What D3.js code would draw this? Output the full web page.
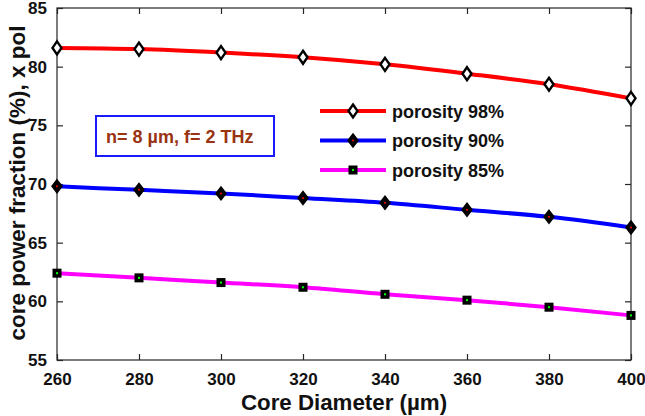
<!DOCTYPE html>
<html><head><meta charset="utf-8">
<script src="https://cdn.jsdelivr.net/npm/d3@7"></script>
<style>body{margin:0;background:#fff}svg{display:block;font-family:"Liberation Sans",Arial,sans-serif}</style>
</head><body><svg id="c" width="645" height="416"></svg>
<script>
const diameters = [260, 280, 300, 320, 340, 360, 380, 400];
const p98 = [81.6, 81.5, 81.2, 80.8, 80.2, 79.4, 78.5, 77.3];
const p90 = [69.8, 69.5, 69.2, 68.8, 68.4, 67.8, 67.2, 66.3];
const p85 = [62.4, 62.0, 61.6, 61.2, 60.6, 60.1, 59.5, 58.8];
const xTicks = [260, 280, 300, 320, 340, 360, 380, 400];
const yTicks = [55, 60, 65, 70, 75, 80, 85];
const seriesNames = ["porosity 98%", "porosity 90%", "porosity 85%"];
const annotation = "n= 8 µm, f= 2 THz";

const svg = d3.select("#c");
const L = 57, R = 631, T = 8, B = 360;
const x = d3.scaleLinear().domain([260, 400]).range([L, R]);
const y = d3.scaleLinear().domain([55, 85]).range([B, T]);

const series = [
  {name: seriesNames[0], vals: p98, color: "#ff0000", marker: "diamondOpen"},
  {name: seriesNames[1], vals: p90, color: "#0000ff", marker: "diamondFill"},
  {name: seriesNames[2], vals: p85, color: "#ff00ff", marker: "square"}
];

// frame
svg.append("rect").attr("x", L).attr("y", T).attr("width", R - L).attr("height", B - T)
  .attr("fill", "none").attr("stroke", "#262626").attr("stroke-width", 1.2);

const tl = 6;
const gx = svg.append("g").attr("transform", `translate(0,${B})`)
  .call(d3.axisBottom(x).tickValues(xTicks).tickSize(-tl).tickPadding(13).tickFormat(d3.format("d")));
const gxt = svg.append("g").attr("transform", `translate(0,${T})`)
  .call(d3.axisTop(x).tickValues(xTicks).tickSize(-tl).tickFormat(""));
const gy = svg.append("g").attr("transform", `translate(${L},0)`)
  .call(d3.axisLeft(y).tickValues(yTicks).tickSize(-tl).tickPadding(10).tickFormat(d3.format("d")));
const gyr = svg.append("g").attr("transform", `translate(${R},0)`)
  .call(d3.axisRight(y).tickValues(yTicks).tickSize(-tl).tickFormat(""));
[gx, gxt, gy, gyr].forEach(g => {
  g.select(".domain").remove();
  g.selectAll(".tick line").attr("stroke", "#262626").attr("stroke-width", 1.2);
  g.selectAll("text").attr("fill", "#111").attr("font-size", 17).attr("font-weight", "bold")
    .attr("font-family", "Liberation Sans, Arial, sans-serif");
});
gx.selectAll("text").attr("dy", "0.71em");

// axis titles
svg.append("text").attr("x", 344).attr("y", 410).attr("text-anchor", "middle")
  .attr("font-size", 22.3).attr("font-weight", "bold").attr("fill", "#111").text("Core Diameter (µm)");
svg.append("text").attr("transform", `translate(25,${183}) rotate(-90)`).attr("text-anchor", "middle")
  .attr("font-size", 22.5).attr("font-weight", "bold").attr("fill", "#111").text("core power fraction (%), x pol");

function drawMarker(g, type, cx, cy) {
  if (type === "diamondOpen") {
    g.append("path").attr("d", `M${cx},${cy-6.5}L${cx+4.5},${cy}L${cx},${cy+6.5}L${cx-4.5},${cy}Z`)
      .attr("fill", "#fff").attr("stroke", "#000").attr("stroke-width", 2.4);
  } else if (type === "diamondFill") {
    g.append("path").attr("d", `M${cx},${cy-6.5}L${cx+5},${cy}L${cx},${cy+6.5}L${cx-5},${cy}Z`)
      .attr("fill", "#000").attr("stroke", "#000").attr("stroke-width", 1.5);
    g.append("circle").attr("cx", cx).attr("cy", cy).attr("r", 1).attr("fill", "#ff0000");
  } else {
    g.append("rect").attr("x", cx - 4.5).attr("y", cy - 4.5).attr("width", 9).attr("height", 9)
      .attr("fill", "#000");
    g.append("rect").attr("x", cx - 1).attr("y", cy - 1).attr("width", 2).attr("height", 2).attr("fill", "#00ff00");
  }
}

const line = d3.line().x((d, i) => x(diameters[i])).y(d => y(d)).curve(d3.curveMonotoneX);
series.forEach(s => {
  svg.append("path").datum(s.vals).attr("d", line).attr("fill", "none")
    .attr("stroke", s.color).attr("stroke-width", 4);
  const g = svg.append("g");
  s.vals.forEach((v, i) => drawMarker(g, s.marker, x(diameters[i]), y(v)));
});

// legend
series.forEach((s, i) => {
  const ly = 111 + i * 29.5;
  svg.append("line").attr("x1", 320).attr("x2", 386).attr("y1", ly).attr("y2", ly)
    .attr("stroke", s.color).attr("stroke-width", 4);
  drawMarker(svg.append("g"), s.marker, 353, ly);
  svg.append("text").attr("x", 392).attr("y", ly + 6.5).attr("font-size", 18).attr("font-weight", "bold")
    .attr("fill", "#111").text(s.name);
});

// annotation box
svg.append("rect").attr("x", 96).attr("y", 116).attr("width", 178).attr("height", 40)
  .attr("fill", "#fff").attr("stroke", "#1a1aff").attr("stroke-width", 2);
svg.append("text").attr("x", 106).attr("y", 142.5).attr("font-size", 18).attr("font-weight", "bold")
  .attr("fill", "#993311").text(annotation);
</script></body></html>
